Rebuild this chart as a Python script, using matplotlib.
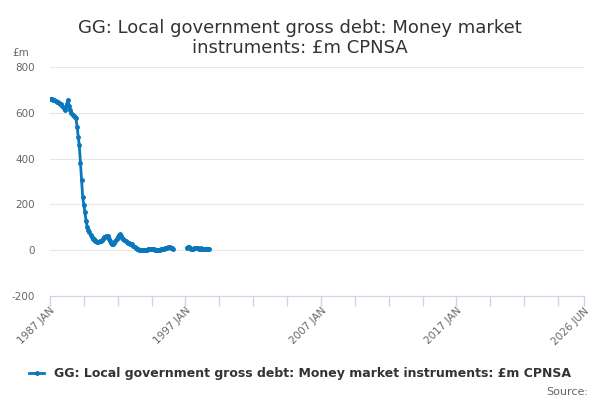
import numpy as np
import pandas as pd
import matplotlib
matplotlib.use("Agg")
import matplotlib.pyplot as plt
import matplotlib.dates as mdates

title = "GG: Local government gross debt: Money market\ninstruments: £m CPNSA"
series_name = "GG: Local government gross debt: Money market instruments: £m CPNSA"

# monthly values, 1987 JAN onwards (gap = missing months)
values = [660, 660, 660, 658, 655,
          650, 648, 645, 642, 640, 640, 630, 620,
          612, 625, 640, 656, 630, 612, 600, 591, 585, 580, 576,
          538, 496, 458, 382, 306, 232, 198, 165, 128, 102,
          90, 80, 66, 58, 50, 47, 42, 38, 36, 37, 38, 40, 45, 50,
          56, 58, 60, 61, 50, 40, 32, 29, 28, 30, 40, 50,
          58, 65, 70, 62, 55, 51, 45, 38, 34, 32, 30, 28,
          27, 25, 20, 14, 9, 5, 4, 3, 3, 3, 2, 2,
          2, 2, 3, 4, 5, 6, 7, 5, 4, 3, 2, 2,
          2, 3, 4, 5, 6, 7, 8, 9, 10, 12, 13, 11, 8, 6] \
    + [None] * 11 \
    + [10, 14, 12, 8, 6, 5, 6, 8, 10, 9, 8, 7, 7, 8, 7, 6, 5, 5, 5, 5, 5]

dates = pd.date_range("1987-01-01", periods=len(values), freq="MS")
vals = np.array([np.nan if v is None else v for v in values], dtype=float)

y_ticks = [-200, 0, 200, 400, 600, 800]
label_ticks = {"1987-01-01": "1987 JAN", "1997-01-01": "1997 JAN",
               "2007-01-01": "2007 JAN", "2017-01-01": "2017 JAN",
               "2026-06-01": "2026 JUN"}

blue = "#0a77bd"
grey = "#666666"

fig = plt.figure(figsize=(6, 4), dpi=100)
ax = fig.add_axes([0.0833, 0.26, 0.89, 0.5725])

x = mdates.date2num(dates.to_pydatetime())
ax.plot(x, vals, color=blue, lw=2, marker="o", ms=2.5, label=series_name)

ax.set_ylim(-200, 800)
ax.set_yticks(y_ticks)
ax.set_yticklabels([str(t) for t in y_ticks], fontsize=7.5, color=grey)
ax.grid(axis="y", color="#e6e6e6", lw=0.8)
ax.set_axisbelow(True)

start = pd.Timestamp("1987-01-01")
end = pd.Timestamp("2026-06-01")
tick_dates = list(pd.date_range(start, end, freq="30MS")) + [end]
tick_x = mdates.date2num([d.to_pydatetime() for d in tick_dates])
ax.set_xlim(tick_x[0], tick_x[-1])
ax.set_xticks(tick_x)
ax.set_xticklabels([label_ticks.get(d.strftime("%Y-%m-%d"), "") for d in tick_dates])
for lab in ax.get_xticklabels():
    lab.set_rotation(45)
    lab.set_ha("right")
    lab.set_va("top")
    lab.set_rotation_mode("anchor")
    lab.set_fontsize(7.5)
    lab.set_color(grey)
ax.tick_params(axis="x", length=7, color="#ccd6eb", width=1, pad=0)
ax.tick_params(axis="y", length=0, pad=11)

for s in ["top", "right", "left"]:
    ax.spines[s].set_visible(False)
ax.spines["bottom"].set_color("#ccd6eb")

fig.text(0.5, 0.905, title, ha="center", va="center", fontsize=13, color="#333333",
         linespacing=1.15)
fig.text(0.02, 0.868, "£m", fontsize=7.5, color=grey, ha="left", va="center")

fig.legend(loc="center", bbox_to_anchor=(0.5, 0.065), frameon=False,
           prop={"size": 9, "weight": "bold"}, handlelength=1.2,
           labelcolor="#333333")
fig.text(0.98, 0.02, "Source:", fontsize=8, color=grey, ha="right", va="center")

fig.savefig("out.png", dpi=100)
